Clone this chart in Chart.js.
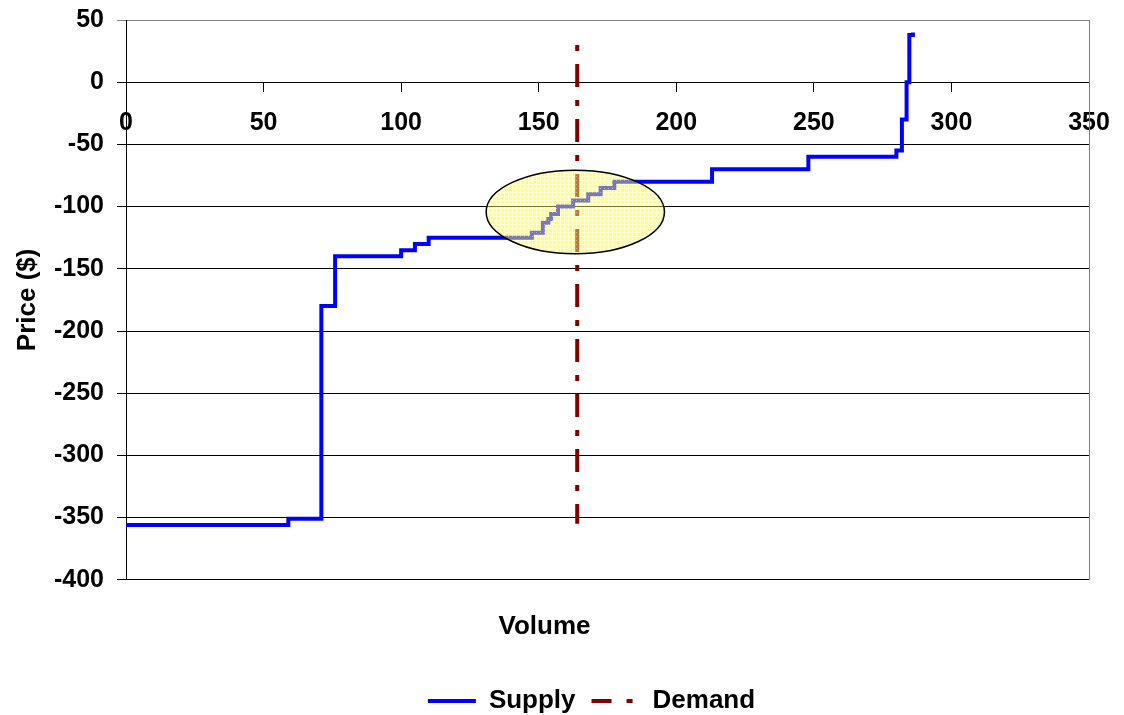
<!DOCTYPE html>
<html>
<head>
<meta charset="utf-8">
<script src="https://cdn.jsdelivr.net/npm/chart.js@4.4.1/dist/chart.umd.min.js"></script>
<style>
    html, body { margin: 0; padding: 0; background: #fff; }
    #wrap { width: 1124px; height: 715px; }
</style>
</head>
<body>
<div id="wrap"><canvas id="chart"></canvas></div>
<script>
// Curva de oferta escalonada (volumen, precio)
const supplyVolume = [0, 59, 71, 76, 100, 105, 110, 147.5, 151.5, 153.5, 154.5, 157, 162.5, 168, 172.5, 177.5, 213, 248, 280, 282, 283.7, 284.7, 286];
const supplyPrice = [-356, -351, -180, -140, -135, -130, -125, -121, -113, -110, -106, -100, -95, -90, -85, -80, -70, -60, -55, -30, 0, 38, 40];

// Demanda vertical
const demandVolume = [164, 164];
const demandPrice = [30, -355];

// Zona resaltada (centro y radios en unidades de datos)
const highlightCenter = [163.3, -104.3];
const highlightRadius = [32.4, 33.6];

const xTicks = [0, 50, 100, 150, 200, 250, 300, 350];
const yTicks = [50, 0, -50, -100, -150, -200, -250, -300, -350, -400];

const FONT = "'Liberation Sans', Arial, sans-serif";

function toPoints(xs, ys) {
    return xs.map((x, i) => ({ x: x, y: ys[i] }));
}

// Patrón amarillo cuadriculado para la elipse
function makePattern(ctx) {
    const c = document.createElement("canvas");
    c.width = 4;
    c.height = 4;
    const p = c.getContext("2d");
    p.fillStyle = "rgba(255,255,0,0.5)";
    p.fillRect(0, 0, 4, 4);
    p.clearRect(0, 0, 4, 1);
    p.clearRect(0, 0, 1, 4);
    p.fillStyle = "rgba(255,255,170,0.45)";
    p.fillRect(0, 0, 4, 1);
    p.fillRect(0, 0, 1, 4);
    return ctx.createPattern(c, "repeat");
}

// Ajuste de posición de la leyenda
const layoutTweaks = {
    id: "layoutTweaks",
    afterLayout(chart) {
        const lg = chart.legend;
        if (lg) {
            lg.top += 9;
            lg.bottom += 9;
            lg.left += 47;
            lg.right += 47;
        }
    }
};

const frameAndEllipse = {
    id: "frameAndEllipse",
    afterDatasetsDraw(chart) {
        const ctx = chart.ctx;
        const xs = chart.scales.x;
        const ys = chart.scales.y;
        const area = chart.chartArea;

        // elipse semitransparente sobre las líneas
        const cx = xs.getPixelForValue(highlightCenter[0]);
        const cy = ys.getPixelForValue(highlightCenter[1]);
        const rx = xs.getPixelForValue(highlightCenter[0] + highlightRadius[0]) - cx;
        const ry = cy - ys.getPixelForValue(highlightCenter[1] + highlightRadius[1]);
        ctx.save();
        ctx.beginPath();
        ctx.ellipse(cx, cy, rx, ry, 0, 0, Math.PI * 2);
        ctx.fillStyle = makePattern(ctx);
        ctx.fill();
        ctx.lineWidth = 1.5;
        ctx.strokeStyle = "#000";
        ctx.stroke();
        ctx.restore();

        // borde derecho gris
        ctx.save();
        ctx.strokeStyle = "#808080";
        ctx.lineWidth = 1;
        ctx.beginPath();
        ctx.moveTo(Math.round(area.right) + 0.5, area.top);
        ctx.lineTo(Math.round(area.right) + 0.5, area.bottom);
        ctx.stroke();
        ctx.restore();
    }
};

new Chart(document.getElementById("chart"), {
    type: "line",
    data: {
        datasets: [
            {
                label: "Supply",
                data: toPoints(supplyVolume, supplyPrice),
                borderColor: "#0000ff",
                backgroundColor: "#0000ff",
                borderWidth: 4,
                stepped: "before",
                pointRadius: 0,
                fill: false,
                order: 1,
            },
            {
                label: "Demand",
                data: toPoints(demandVolume, demandPrice),
                borderColor: "#800000",
                backgroundColor: "#800000",
                borderWidth: 4,
                borderDash: [6, 13, 23, 13],
                borderCapStyle: "butt",
                pointRadius: 0,
                fill: false,
                order: 0,
            },
        ],
    },
    options: {
        responsive: true,
        maintainAspectRatio: false,
        animation: false,
        layout: {
            padding: { top: 20, right: 35, left: 0, bottom: 0 },
        },
        scales: {
            x: {
                type: "linear",
                position: { y: 0 },
                min: 0,
                max: 350,
                afterBuildTicks: (scale) => {
                    scale.ticks = xTicks.map((v) => ({ value: v }));
                },
                afterFit: (scale) => {
                    scale.paddingTop = 0;
                    scale.paddingBottom = 0;
                    scale.paddingRight = 0;
                },
                ticks: {
                    color: "#000",
                    padding: 17,
                    font: { family: FONT, size: 25, weight: "bold" },
                },
                grid: {
                    drawOnChartArea: false,
                    drawTicks: true,
                    tickLength: 9,
                    color: "#000",
                },
                border: { color: "#000", width: 1 },
            },
            y: {
                min: -400,
                max: 50,
                afterBuildTicks: (scale) => {
                    scale.ticks = yTicks.map((v) => ({ value: v }));
                },
                afterFit: (scale) => {
                    scale.width = 126;
                    scale.paddingTop = 0;
                    scale.paddingBottom = 0;
                },
                ticks: {
                    color: "#000",
                    padding: 13,
                    font: { family: FONT, size: 25, weight: "bold" },
                },
                grid: {
                    color: (c) => (c.tick && c.tick.value === 50 ? "#808080" : "#000"),
                    tickLength: 9,
                },
                border: { color: "#000", width: 1 },
                title: {
                    display: true,
                    text: "Price ($)",
                    color: "#000",
                    padding: { top: 12, bottom: 0 },
                    font: { family: FONT, size: 26, weight: "bold" },
                },
            },
        },
        plugins: {
            title: {
                display: true,
                text: "Volume",
                position: "bottom",
                weight: 500,
                color: "#000",
                padding: { top: 31, bottom: 21 },
                font: { family: FONT, size: 26, weight: "bold" },
            },
            legend: {
                position: "bottom",
                labels: {
                    color: "#000",
                    usePointStyle: true,
                    pointStyle: "line",
                    pointStyleWidth: 48,
                    padding: 16,
                    font: { family: FONT, size: 26, weight: "bold" },
                    sort: (a, b) => a.datasetIndex - b.datasetIndex,
                    generateLabels: (chart) => {
                        const items = Chart.defaults.plugins.legend.labels.generateLabels(chart);
                        items.forEach((it) => {
                            if (it.text === "Demand") {
                                it.lineDash = [20, 15, 6, 60];
                            }
                        });
                        return items;
                    },
                },
            },
            tooltip: { enabled: false },
        },
    },
    plugins: [frameAndEllipse, layoutTweaks],
});
</script>
</body>
</html>
